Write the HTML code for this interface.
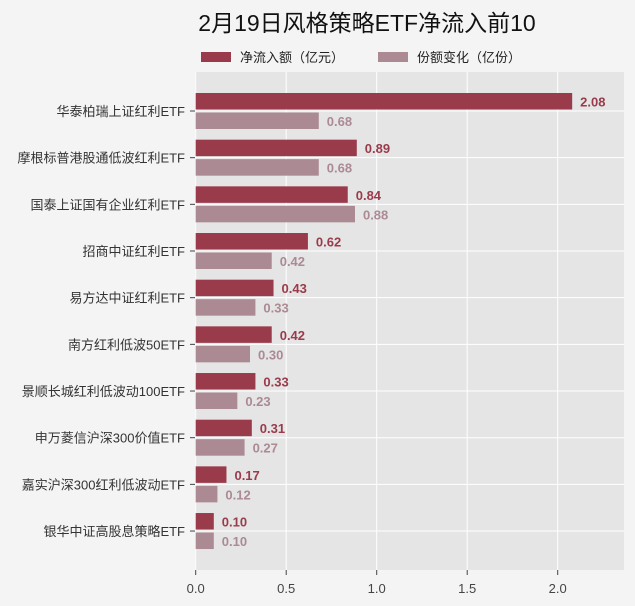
<!DOCTYPE html>
<html><head><meta charset="utf-8"><style>
html,body{margin:0;padding:0;background:#f4f4f4;}
svg{display:block;font-family:"Liberation Sans","Noto Sans CJK SC",sans-serif;}
</style></head><body>
<svg id="chart" width="635" height="606" viewBox="0 0 635 606">
<rect x="0" y="0" width="635" height="606" fill="#f4f4f4"/>
<text x="367" y="31" text-anchor="middle" font-size="23" fill="#111">2月19日风格策略ETF净流入前10</text>
<g>
<rect x="201" y="52" width="30" height="10" fill="#9a3b4b"/>
<text x="240" y="62" font-size="13" fill="#222">净流入额（亿元）</text>
<rect x="378" y="52" width="30" height="10" fill="#ab8a93"/>
<text x="417" y="62" font-size="13" fill="#222">份额变化（亿份）</text>
</g>
<rect x="195" y="72" width="429" height="498" fill="#e5e5e5"/>
<g id="grid"></g><g id="bars"></g><g id="axes"></g>
</svg>
<script>
const categories=["华泰柏瑞上证红利ETF","摩根标普港股通低波红利ETF","国泰上证国有企业红利ETF","招商中证红利ETF","易方达中证红利ETF","南方红利低波50ETF","景顺长城红利低波动100ETF","申万菱信沪深300价值ETF","嘉实沪深300红利低波动ETF","银华中证高股息策略ETF"];
const netInflow=[2.08,0.89,0.84,0.62,0.43,0.42,0.33,0.31,0.17,0.10];
const shareChange=[0.68,0.68,0.88,0.42,0.33,0.30,0.23,0.27,0.12,0.10];
const xTicks=[0,0.5,1.0,1.5,2.0];
const xTickLabels=["0.0","0.5","1.0","1.5","2.0"];
const NS="http://www.w3.org/2000/svg";
const x0=195.7,xs=181;
function xScale(v){return x0+v*xs;}
function yCenter(i){return 111+i*46.67;}
function mk(tag,attrs,parent,text){const e=document.createElementNS(NS,tag);for(const k in attrs)e.setAttribute(k,attrs[k]);if(text!==undefined)e.textContent=text;parent.appendChild(e);return e;}
const grid=document.getElementById('grid'),bars=document.getElementById('bars'),axes=document.getElementById('axes');
xTicks.forEach((t,i)=>{
 const x=xScale(t);
 const g=mk('line',{x1:x,x2:x,y1:72,y2:570,stroke:'#fff','stroke-width':1},grid);
 
 
 const tk=mk('line',{x1:x,x2:x,y1:570,y2:575,stroke:'#444','stroke-width':1},axes);
 
 
 const lb=mk('text',{x:x,y:593,'text-anchor':'middle','font-size':13,fill:'#444'},axes,xTickLabels[i]);
 
 
});
categories.forEach((c,i)=>{
 const y=yCenter(i);
 const g=mk('line',{x1:195,x2:624,y1:y,y2:y,stroke:'#fff','stroke-width':1},grid);
 
 
 const tk=mk('line',{x1:190,x2:195,y1:y,y2:y,stroke:'#444','stroke-width':1},axes);
 
 
 const lb=mk('text',{x:185,y:y+5,'text-anchor':'end','font-size':13,fill:'#333'},axes,c);
 
 
 const b1=mk('rect',{x:x0,y:y-18,width:xScale(netInflow[i])-x0,height:16.5,fill:'#9a3b4b'},bars);
 
 
 const t1=mk('text',{x:xScale(netInflow[i])+8,y:y-4.5,'font-size':13,'font-weight':'bold',fill:'#9a3b4b'},bars,netInflow[i].toFixed(2));
 
 
 const b2=mk('rect',{x:x0,y:y+1.5,width:xScale(shareChange[i])-x0,height:16.5,fill:'#ab8a93'},bars);
 
 
 const t2=mk('text',{x:xScale(shareChange[i])+8,y:y+15,'font-size':13,'font-weight':'bold',fill:'#ab8a93'},bars,shareChange[i].toFixed(2));
 
 
});
</script>
</body></html>
